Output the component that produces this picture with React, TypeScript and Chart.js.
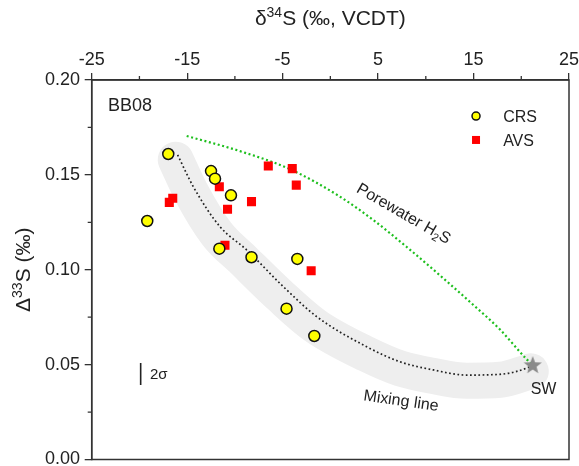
import React, { useEffect, useRef } from 'react';
import { Chart, registerables } from 'chart.js';

Chart.register(...registerables);

const FONT = '"Liberation Sans", Arial, Helvetica, sans-serif';

// Axis ticks
const xTicks = [-25, -15, -5, 5, 15, 25];
const xMinorTicks = [-20, -10, 0, 10, 20];
const yTicks = [0, 0.05, 0.1, 0.15, 0.2];
const yMinorTicks = [0.025, 0.075, 0.125, 0.175];

// CRS (yellow circles)
const crsX = [-16.98, -12.5, -12.08, -10.41, -19.18, -11.63, -8.26, -3.46, -4.59, -1.68];
const crsY = [0.161, 0.152, 0.148, 0.1392, 0.1257, 0.1111, 0.1066, 0.1057, 0.0795, 0.0651];

// AVS (red squares)
const avsX = [-6.5, -3.99, -3.57, -11.63, -16.51, -16.87, -8.26, -10.77, -11.04, -2.01];
const avsY = [0.1547, 0.1533, 0.1446, 0.1437, 0.1377, 0.1355, 0.1359, 0.1319, 0.1129, 0.0995];

// Seawater end-member
const swX = [21.2];
const swY = [0.0498];

// Mixing line (dotted black)
const mixX = [-16.0, -14.36, -11.56, -8.76, -4.93, -1.43, 3.81, 7.3, 10.78, 14.28, 17.77, 20.91, 21.2];
const mixY = [0.1605, 0.1438, 0.1227, 0.1104, 0.0911, 0.0753, 0.0594, 0.0515, 0.0472, 0.0445, 0.0449, 0.0489, 0.0498];

// Grey envelope around mixing line
const bandX = [-16.2, -14.6, -11.9, -9.1, -5.2, -1.6, 3.8, 7.3, 10.8, 14.3, 17.8, 21.0];
const bandY = [0.158, 0.141, 0.119, 0.105, 0.086, 0.0705, 0.0555, 0.048, 0.044, 0.0415, 0.042, 0.0465];

// Porewater H2S (dotted green)
const poreX = [-15.05, -9.46, -4.23, 1.01, 4.5, 8.0, 11.49, 14.97, 17.77, 20.57, 21.2];
const poreY = [0.1705, 0.1625, 0.153, 0.1385, 0.1262, 0.112, 0.097, 0.0815, 0.0685, 0.0528, 0.0498];

// 2 sigma error bar
const sigmaX = [-19.87, -19.87];
const sigmaY = [0.0393, 0.0509];

const zip = (xs: number[], ys: number[]) => xs.map((x, i) => ({ x, y: ys[i] }));

function makeStar(): HTMLCanvasElement {
  const c = document.createElement('canvas');
  c.width = 22;
  c.height = 22;
  const g = c.getContext('2d')!;
  const R = 9.5, r = 4;
  g.fillStyle = '#8a8a8a';
  g.beginPath();
  for (let i = 0; i < 10; i++) {
    const a = -Math.PI / 2 + (i * Math.PI) / 5;
    const rr = i % 2 ? r : R;
    g.lineTo(11 + rr * Math.cos(a), 11.5 + rr * Math.sin(a));
  }
  g.closePath();
  g.fill();
  return c;
}

type Part = { t: string; kind?: 'sup' | 'sub' };

function drawRich(ctx: CanvasRenderingContext2D, parts: Part[], size: number, cx: number, cy: number, rot: number, align: 'center' | 'left' = 'center') {
  ctx.save();
  ctx.translate(cx, cy);
  ctx.rotate(rot);
  ctx.textBaseline = 'alphabetic';
  ctx.textAlign = 'left';
  const fontFor = (p: Part) => `${p.kind ? Math.round(size * 0.66) : size}px ${FONT}`;
  let total = 0;
  const widths = parts.map((p) => {
    ctx.font = fontFor(p);
    const w = ctx.measureText(p.t).width;
    total += w;
    return w;
  });
  let x = align === 'center' ? -total / 2 : 0;
  const base = size * 0.36;
  parts.forEach((p, i) => {
    ctx.font = fontFor(p);
    const dy = p.kind === 'sup' ? -size * 0.36 : p.kind === 'sub' ? size * 0.22 : 0;
    ctx.fillText(p.t, x, base + dy);
    x += widths[i];
  });
  ctx.restore();
}

const annotPlugin = {
  id: 'annot',
  afterDatasetsDraw(chart: any) {
    const { ctx, chartArea: a, scales } = chart;
    const xs = scales.x, ys = scales.y;
    const px = (v: number) => xs.getPixelForValue(v);
    const py = (v: number) => ys.getPixelForValue(v);
    ctx.save();
    // frame
    ctx.strokeStyle = '#333';
    ctx.lineWidth = 1.5;
    ctx.strokeRect(a.left, a.top, a.right - a.left, a.bottom - a.top);
    // minor ticks
    ctx.lineWidth = 1.3;
    ctx.beginPath();
    xMinorTicks.forEach((v) => {
      const p = px(v);
      ctx.moveTo(p, a.top);
      ctx.lineTo(p, a.top - 4);
    });
    yMinorTicks.forEach((v) => {
      const p = py(v);
      ctx.moveTo(a.left, p);
      ctx.lineTo(a.left - 4, p);
    });
    ctx.stroke();

    ctx.fillStyle = '#222';
    // BB08
    drawRich(ctx, [{ t: 'BB08' }], 18, px(-23.29), py(0.1873), 0, 'left');
    // legend
    const lx = px(15.26);
    ctx.beginPath();
    ctx.arc(lx, py(0.181), 4, 0, Math.PI * 2);
    ctx.fillStyle = '#ffff00';
    ctx.fill();
    ctx.lineWidth = 1.5;
    ctx.strokeStyle = '#111';
    ctx.stroke();
    ctx.fillStyle = '#ff0000';
    ctx.fillRect(lx - 4, py(0.1684) - 4, 8, 8);
    ctx.fillStyle = '#222';
    drawRich(ctx, [{ t: 'CRS' }], 16, px(18.1), py(0.181), 0, 'left');
    drawRich(ctx, [{ t: 'AVS' }], 16, px(18.1), py(0.1684), 0, 'left');
    // curve labels
    drawRich(ctx, [{ t: 'Porewater H' }, { t: '2', kind: 'sub' }, { t: 'S' }], 16, px(7.72), py(0.1299), (30 * Math.PI) / 180);
    drawRich(ctx, [{ t: 'Mixing line' }], 16, px(7.42), py(0.0314), (8 * Math.PI) / 180);
    drawRich(ctx, [{ t: 'SW' }], 16, px(22.33), py(0.0377), 0);
    drawRich(ctx, [{ t: '2σ' }], 15, px(-18.89), py(0.0451), 0, 'left');
    // axis titles
    drawRich(ctx, [{ t: 'δ' }, { t: '34', kind: 'sup' }, { t: 'S (‰, VCDT)' }], 21, (a.left + a.right) / 2, 17, 0);
    drawRich(ctx, [{ t: 'Δ' }, { t: '33', kind: 'sup' }, { t: 'S (‰)' }], 21, 22, (a.top + a.bottom) / 2, -Math.PI / 2);
    ctx.restore();
  },
};

export default function App() {
  const ref = useRef<HTMLCanvasElement | null>(null);
  useEffect(() => {
    document.body.style.margin = '0';
    const canvas = ref.current!;
    const star = makeStar();
    const lineDs = (data: any, extra: any) => ({
      data,
      showLine: true,
      pointRadius: 0,
      pointHoverRadius: 0,
      fill: false,
      cubicInterpolationMode: 'monotone',
      ...extra,
    });
    const chart = new Chart(canvas, {
      type: 'scatter',
      data: {
        datasets: [
          { label: 'SW', data: zip(swX, swY), pointStyle: star as any, pointRadius: 10 },
          {
            label: 'CRS',
            data: zip(crsX, crsY),
            pointStyle: 'circle',
            pointRadius: 5.5,
            backgroundColor: '#ffff00',
            borderColor: '#111',
            borderWidth: 1.5,
          },
          {
            label: 'AVS',
            data: zip(avsX, avsY),
            pointStyle: 'rect',
            pointRadius: 6.4,
            backgroundColor: '#ff0000',
            borderColor: '#ff0000',
            borderWidth: 0,
          },
          lineDs(zip(poreX, poreY), { label: 'Porewater', borderColor: '#1dbf1d', borderWidth: 2.2, borderDash: [2, 2.6] }),
          lineDs(zip(mixX, mixY), { label: 'Mixing', borderColor: '#222', borderWidth: 1.7, borderDash: [1.7, 2.5] }),
          lineDs(zip(bandX, bandY), {
            label: 'band',
            borderColor: '#eeeeee',
            borderWidth: 36,
            borderCapStyle: 'round',
            borderJoinStyle: 'round',
          }),
          lineDs(zip(sigmaX, sigmaY), { label: '2sigma', borderColor: '#222', borderWidth: 1.6, cubicInterpolationMode: 'default', tension: 0 }),
        ] as any,
      },
      options: {
        responsive: false,
        animation: false,
        devicePixelRatio: 1,
        layout: { autoPadding: false, padding: { left: 0, top: 0, right: 10, bottom: 6.5 } },
        plugins: { legend: { display: false }, tooltip: { enabled: false } },
        events: [],
        scales: {
          x: {
            type: 'linear',
            position: 'top',
            min: -25,
            max: 25,
            afterBuildTicks: (s: any) => {
              s.ticks = xTicks.map((v) => ({ value: v }));
            },
            afterFit: (s: any) => {
              s.height = 80;
              s.paddingLeft = 0;
              s.paddingRight = 0;
              s.paddingTop = 0;
              s.paddingBottom = 0;
            },
            grid: { drawOnChartArea: false, tickLength: 7, color: '#333', lineWidth: 1.3 },
            border: { color: '#333', width: 1.5 },
            ticks: {
              padding: 1.8,
              color: '#222',
              autoSkip: false,
              maxRotation: 0,
              font: { family: FONT, size: 18 },
              callback: (v: any) => String(v),
            },
          },
          y: {
            type: 'linear',
            position: 'left',
            min: 0,
            max: 0.2,
            afterBuildTicks: (s: any) => {
              s.ticks = yTicks.map((v) => ({ value: v }));
            },
            afterFit: (s: any) => {
              s.width = 91.7;
              s.paddingLeft = 0;
              s.paddingRight = 0;
              s.paddingTop = 0;
              s.paddingBottom = 0;
            },
            grid: { drawOnChartArea: false, tickLength: 7, color: '#333', lineWidth: 1.3 },
            border: { color: '#333', width: 1.5 },
            ticks: {
              padding: 4.7,
              color: '#222',
              autoSkip: false,
              font: { family: FONT, size: 18 },
              callback: (v: any) => Number(v).toFixed(2),
            },
          },
        },
      } as any,
      plugins: [annotPlugin],
    });
    return () => chart.destroy();
  }, []);
  return <canvas ref={ref} width={579} height={466} style={{ display: 'block' }} />;
}
